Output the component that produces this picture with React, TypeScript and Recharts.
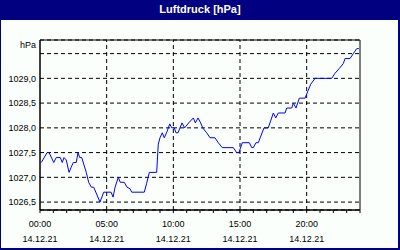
import React from "react";
import {
  LineChart,
  Line,
  XAxis,
  YAxis,
  CartesianGrid,
  ReferenceLine,
  ReferenceArea,
} from "recharts";

// sample times (hours since 00:00) and pressure readings
const hours = [
  0.1, 0.53, 0.68, 1.03, 1.22, 1.52, 1.67, 1.8, 1.97, 2.18, 2.33, 2.5, 2.72, 2.85, 2.98, 3.13,
  3.47, 3.65, 3.85, 4.03, 4.5, 4.78, 5.33, 5.48, 5.63, 5.87, 6.02, 6.32, 6.53, 6.75, 6.88, 7.82,
  8.0, 8.2, 8.75, 8.87, 9.0, 9.17, 9.32, 9.52, 9.73, 9.88, 10.07, 10.2, 10.35, 10.65, 10.85, 11.15,
  11.5, 11.65, 11.85, 12.05, 12.2, 12.5, 12.75, 13.12, 13.37, 13.67, 14.5, 14.75, 14.92, 15.17,
  15.7, 15.88, 16.0, 16.2, 16.37, 16.8, 17.12, 17.5, 17.68, 17.87, 18.38, 18.5, 18.88, 19.0, 19.2,
  19.45, 19.88, 20.12, 20.3, 20.63, 21.88, 22.12, 22.45, 22.75, 22.88, 23.25, 23.5, 23.75, 23.92,
];
const pressure = [
  1027.3, 1027.5, 1027.5, 1027.3, 1027.4, 1027.4, 1027.3, 1027.4, 1027.35, 1027.1, 1027.2, 1027.3,
  1027.3, 1027.5, 1027.4, 1027.4, 1027.1, 1026.9, 1026.8, 1026.8, 1026.5, 1026.7, 1026.7, 1026.6,
  1026.8, 1027.0, 1026.9, 1026.9, 1026.8, 1026.77, 1026.7, 1026.7, 1026.88, 1027.1, 1027.1, 1027.67,
  1027.8, 1027.9, 1027.8, 1027.92, 1028.08, 1028.0, 1028.0, 1027.9, 1027.9, 1028.1, 1028.0, 1028.1,
  1028.2, 1028.1, 1028.2, 1028.1, 1028.0, 1027.9, 1027.8, 1027.8, 1027.7, 1027.6, 1027.6, 1027.5,
  1027.5, 1027.7, 1027.7, 1027.6, 1027.6, 1027.7, 1027.7, 1028.0, 1028.0, 1028.3, 1028.2, 1028.3,
  1028.3, 1028.4, 1028.4, 1028.5, 1028.4, 1028.6, 1028.6, 1028.76, 1028.88, 1029.0, 1029.0, 1029.1,
  1029.2, 1029.3, 1029.4, 1029.4, 1029.5, 1029.6, 1029.6,
];

const hourTicks = Array.from({ length: 25 }, (_, i) => i);
const majorHours = [5, 10, 15, 20];
const yTicks = [1026.5, 1027.0, 1027.5, 1028.0, 1028.5, 1029.0, 1029.5];
const yDomain = [1026.34, 1029.775];
const dateLabel = "14.12.21";

const data = hours.map((h, i) => ({ h, p: pressure[i] }));

const FONT = "'Liberation Sans', Arial, sans-serif";

const TimeTick = (props: any) => {
  const { x, y, payload } = props;
  if (payload.value % 5 !== 0 || payload.value === 24) return null;
  const hh = String(payload.value).padStart(2, "0");
  return (
    <text x={x} y={y} textAnchor="middle" fontSize={9} fontFamily={FONT} fill="#000">
      <tspan x={x} dy={12}>{hh}:00</tspan>
      <tspan x={x} dy={15}>{dateLabel}</tspan>
    </text>
  );
};

export default function App() {
  return (
    <div style={{ position: "absolute", left: 0, top: 0, width: 400, height: 250, background: "#000080" }}>
      <div style={{ position: "absolute", left: 1, top: 20, width: 397, height: 228, background: "#fbfffb" }} />
      <div
        style={{
          position: "absolute", left: 0, top: 0, width: 400, height: 18, lineHeight: "18px",
          textAlign: "center", color: "#fff", fontWeight: "bold", fontSize: 11, fontFamily: FONT,
        }}
      >
        Luftdruck [hPa]
      </div>
      <div
        style={{
          position: "absolute", left: 0, top: 39, width: 36, lineHeight: "12px",
          textAlign: "right", fontSize: 9, fontFamily: FONT, color: "#000",
        }}
      >
        hPa
      </div>
      <div style={{ position: "absolute", left: 0, top: 0 }}>
        <LineChart width={400} height={250} data={data} margin={{ top: 40, right: 40, left: 0, bottom: 0 }}>
          <CartesianGrid vertical={false} stroke="#000" strokeDasharray="4 3" />
          {majorHours.map((h) => (
            <ReferenceLine key={h} x={h} stroke="#000" strokeDasharray="4 3" />
          ))}
          <XAxis
            dataKey="h"
            type="number"
            domain={[0, 24]}
            ticks={hourTicks}
            interval={0}
            height={40}
            axisLine={{ stroke: "#000" }}
            tickLine={{ stroke: "#000" }}
            tickSize={3}
            tick={<TimeTick />}
          />
          <YAxis
            type="number"
            domain={yDomain}
            ticks={yTicks}
            interval={0}
            width={40}
            axisLine={{ stroke: "#000" }}
            tickLine={false}
            tickSize={0}
            tickMargin={4}
            tick={{ fill: "#000", fontSize: 9, fontFamily: FONT }}
            tickFormatter={(v: number) => (v === 1029.5 ? "" : v.toFixed(1).replace(".", ","))}
          />
          <ReferenceArea x1={0} x2={24} y1={yDomain[0]} y2={yDomain[1]} fill="none" stroke="#000" />
          <Line
            type="linear"
            dataKey="p"
            stroke="#0000ff"
            strokeWidth={1}
            dot={false}
            isAnimationActive={false}
          />
        </LineChart>
      </div>
    </div>
  );
}
